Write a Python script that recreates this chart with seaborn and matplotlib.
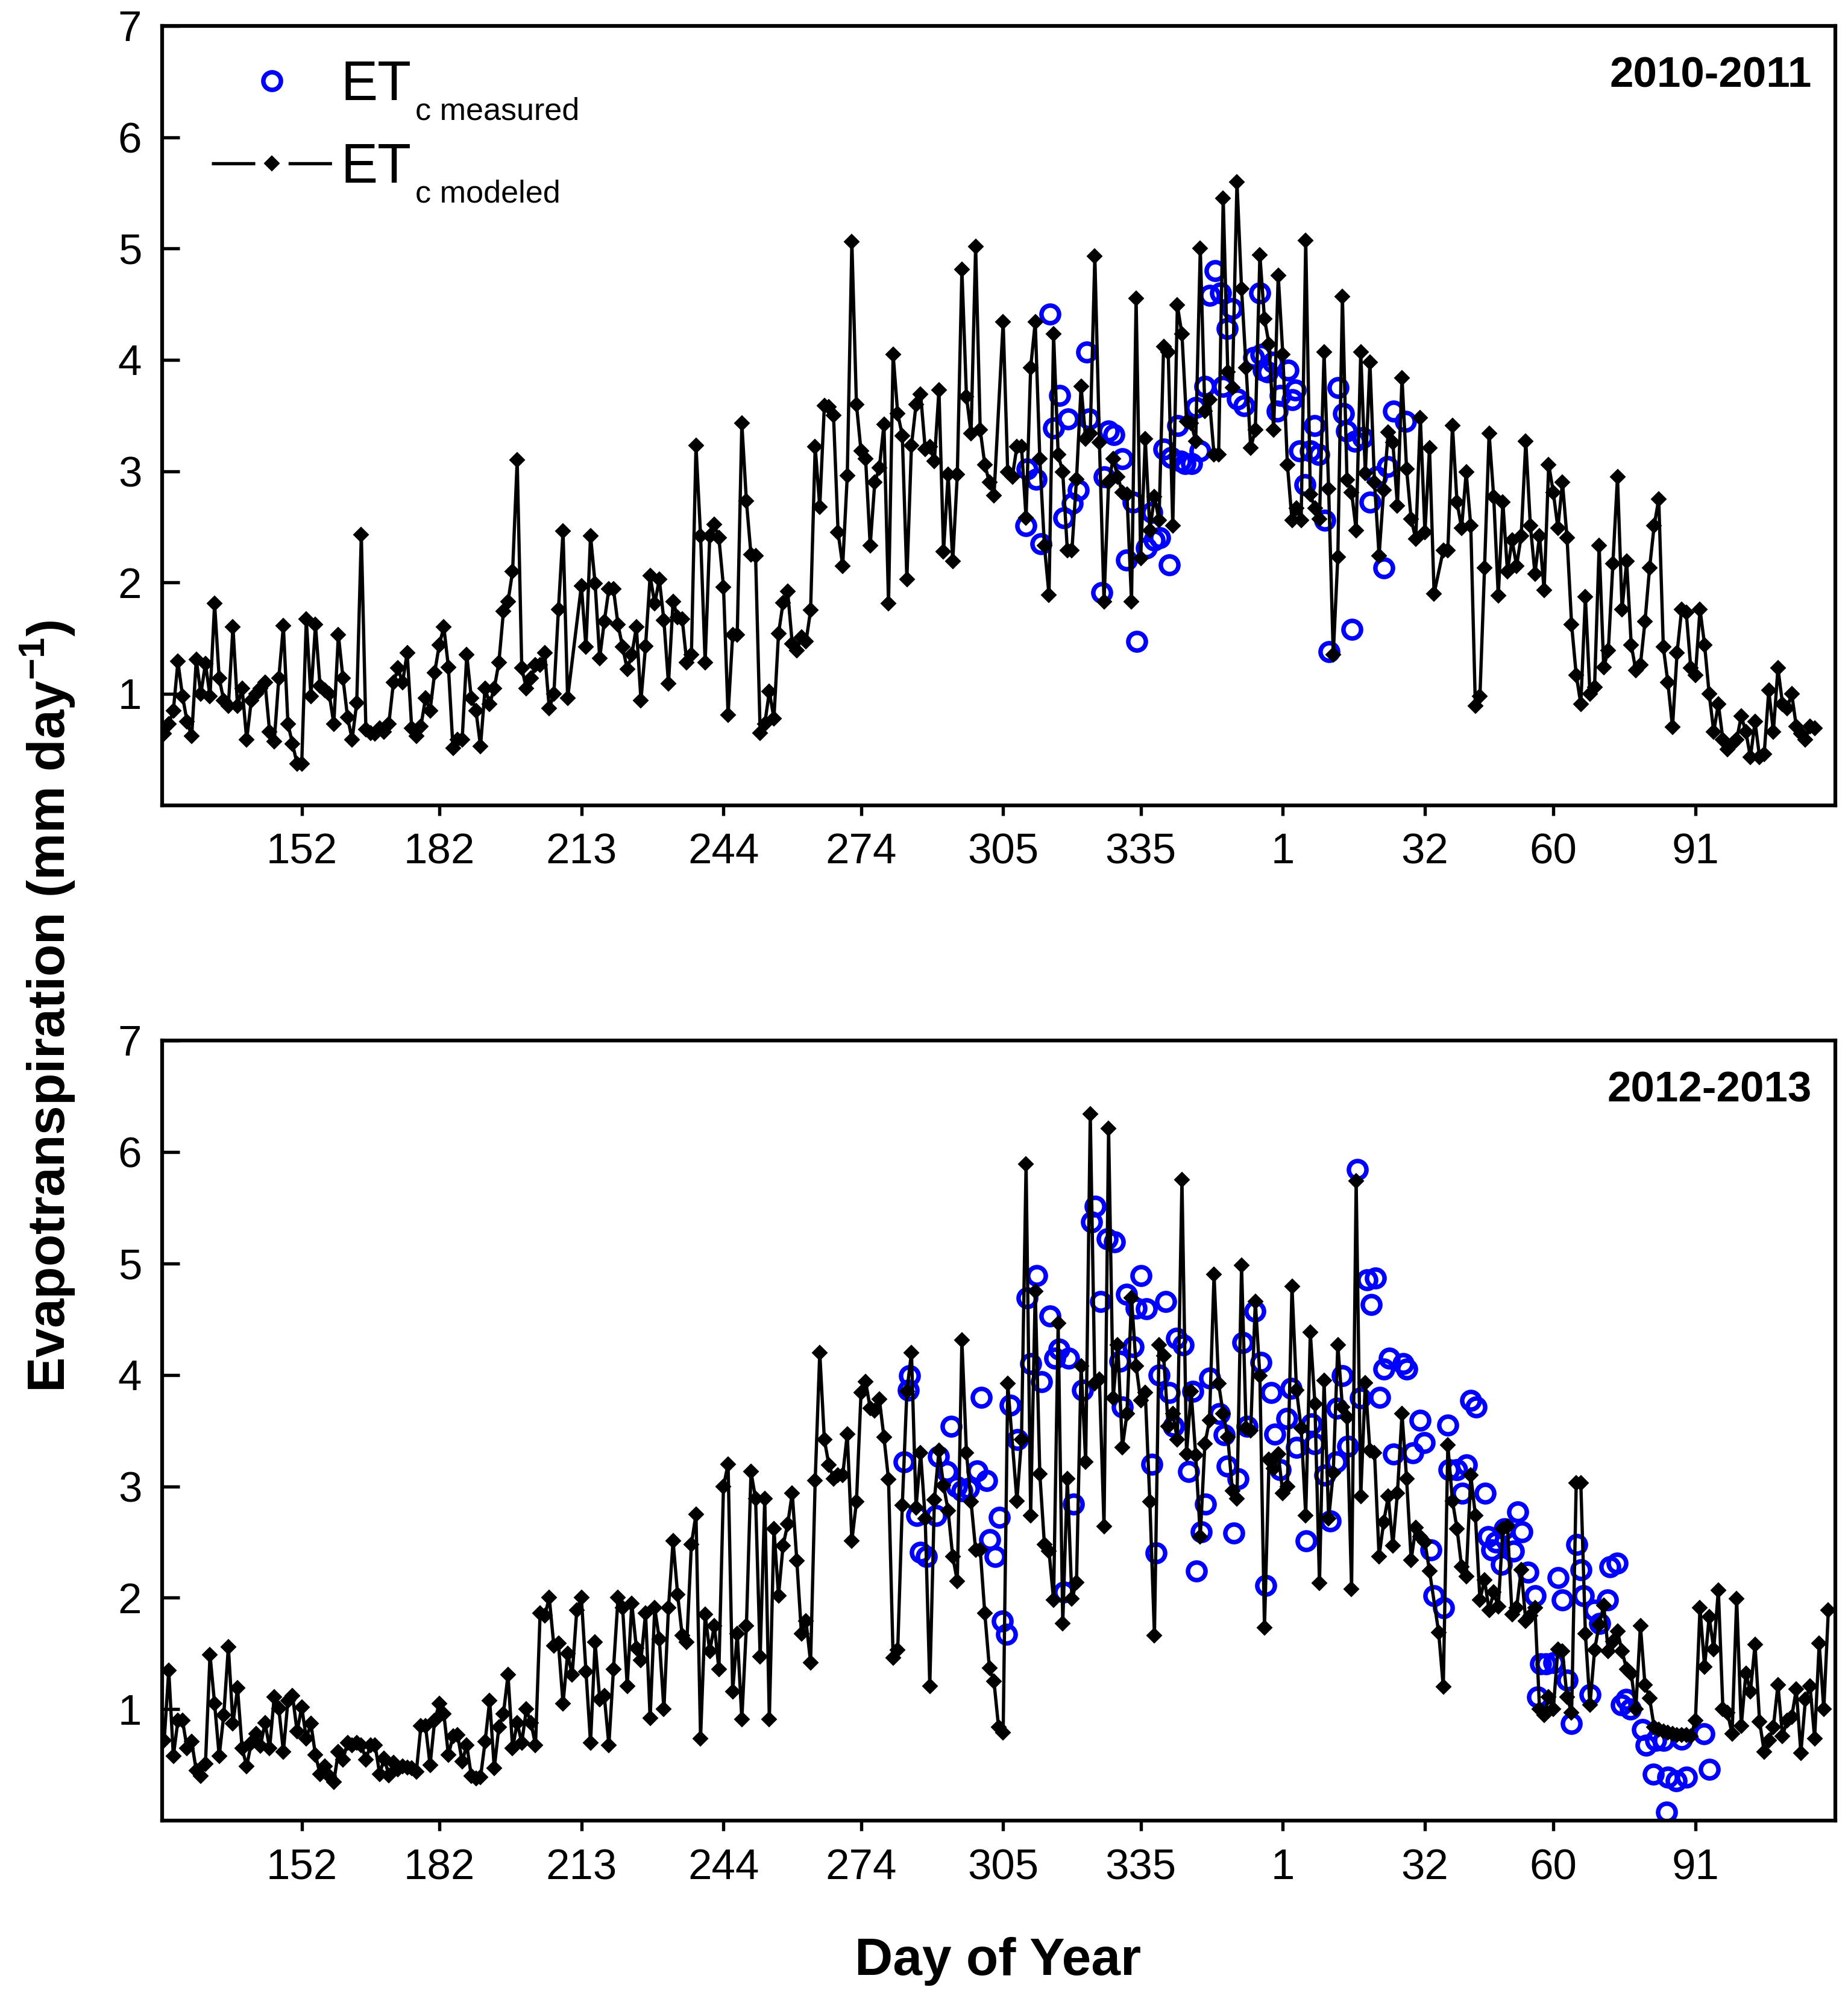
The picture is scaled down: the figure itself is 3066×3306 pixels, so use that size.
"""
Crop evapotranspiration (ETc): measured vs modeled, two seasons.
"""

import numpy as np
import pandas as pd
import matplotlib
matplotlib.use("Agg")
import matplotlib.pyplot as plt
import seaborn as sns

# x axis: sequential day count (day 366 = 1 Jan of the second year)
tick_days = [152, 182, 213, 244, 274, 305, 335, 366, 397, 425, 456]
tick_labels = ["152", "182", "213", "244", "274", "305", "335", "1", "32", "60", "91"]

# legend: main text and subscript
leg_main = ["ET", "ET"]
leg_sub = ["c measured", "c modeled"]

# ---- 2010-2011, ETc modeled (daily), four runs with their first day
mod_1011_start = [122, 213, 305, 401]
mod_1011_a = [0.64, 0.73, 0.85, 1.29, 0.98, 0.75, 0.62, 1.31, 1.0, 1.27,
              0.98, 1.81, 1.14, 0.94, 0.89, 1.6, 0.89, 1.05, 0.59, 0.94,
              1.0, 1.05, 1.1, 0.66, 0.57, 1.14, 1.61, 0.73, 0.55, 0.37,
              0.37, 1.67, 0.98, 1.62, 1.07, 1.03, 1.0, 0.73, 1.53, 1.14,
              0.79, 0.59, 0.92, 2.43, 0.68, 0.65, 0.64, 0.69, 0.66, 0.73,
              1.1, 1.23, 1.1, 1.37, 0.69, 0.62, 0.71, 0.96, 0.85, 1.19,
              1.44, 1.6, 1.24, 0.51, 0.59, 0.59, 1.35, 0.96, 0.85, 0.53,
              1.05, 0.91, 1.05, 1.28, 1.74, 1.83, 2.1, 3.1, 1.23, 1.05,
              1.14, 1.26, 1.26, 1.37, 0.87, 1.0, 1.76, 2.46, 0.96]
mod_1011_b = [1.97, 1.42, 2.42, 1.99, 1.32, 1.65, 1.94, 1.94, 1.62, 1.42,
              1.22, 1.35, 1.6, 0.94, 1.43, 2.06, 1.81, 2.03, 1.66, 1.09,
              1.83, 1.69, 1.67, 1.28, 1.35, 3.23, 2.42, 1.28, 2.42, 2.52,
              2.4, 1.96, 0.81, 1.53, 1.53, 3.43, 2.73, 2.25, 2.24, 0.65,
              0.73, 1.02, 0.78, 1.54, 1.82, 1.92, 1.45, 1.39, 1.51, 1.47,
              1.75, 3.22, 2.68, 3.59, 3.58, 3.5, 2.45, 2.15, 2.96, 5.06,
              3.6, 3.18, 3.11, 2.33, 2.9, 3.03, 3.42, 1.81, 4.05, 3.52,
              3.32, 2.03, 3.23, 3.6, 3.69, 3.2, 3.22, 3.09, 3.73, 2.28,
              2.97, 2.19, 2.97, 4.81, 3.67, 3.34, 5.02, 3.37, 3.06, 2.9, 2.78]
mod_1011_c = [4.34, 2.99, 2.95, 3.22, 3.22, 2.58, 3.93, 4.34, 3.11, 2.33,
              1.89, 4.23, 3.15, 2.99, 2.29, 2.29, 2.93, 3.76, 3.29, 3.34,
              4.93, 3.26, 1.83, 2.9, 3.11, 2.95, 2.81, 2.79, 1.83, 4.55,
              2.22, 3.29, 2.47, 2.77, 2.56, 4.12, 4.07, 2.51, 4.49, 4.23,
              3.45, 3.43, 3.27, 5.0, 3.54, 3.64, 3.15, 3.15, 5.45, 3.89,
              3.75, 5.6, 4.64, 3.93, 3.21, 3.37, 4.94, 4.37, 4.14, 3.37,
              4.76, 4.05, 3.06, 2.56, 2.67, 2.56, 5.07, 2.79, 2.67, 2.57,
              4.07, 2.84, 1.35, 2.23, 4.57, 2.92, 2.81, 2.47, 4.07, 2.98,
              3.98, 2.9, 2.24, 2.83, 3.35, 3.26, 2.69, 3.84, 3.02, 2.57,
              2.39, 3.48, 2.45, 3.21, 1.9]
mod_1011_d = [2.29, 2.29, 3.41, 2.72, 2.49, 2.99, 2.51, 0.89, 0.98, 2.13,
              3.34, 2.77, 1.88, 2.72, 2.1, 2.38, 2.15, 2.42, 3.27, 2.51,
              2.08, 2.42, 1.93, 3.06, 2.81, 2.49, 2.9, 2.4, 1.62, 1.17,
              0.91, 1.87, 1.0, 1.06, 2.33, 1.24, 1.39, 2.17, 2.95, 1.76,
              2.19, 1.44, 1.21, 1.26, 1.65, 2.13, 2.51, 2.75, 1.42, 1.1,
              0.7, 1.37, 1.76, 1.73, 1.23, 1.17, 1.76, 1.44, 1.0, 0.66,
              0.91, 0.59, 0.5, 0.55, 0.59, 0.8, 0.66, 0.43, 0.75, 0.43,
              0.46, 1.03, 0.66, 1.23, 0.91, 0.87, 1.0, 0.71, 0.64, 0.59, 0.71, 0.69]

# ---- 2010-2011, ETc measured
med_1011_day = [309.9, 310.2, 312.2, 313.2, 315.2, 316.0, 317.3, 318.2, 319.1, 320.1,
                321.4, 323.2, 323.8, 326.5, 327.1, 328.0, 329.2, 331.0, 331.9, 333.3,
                334.2, 336.2, 337.4, 338.0, 339.2, 340.1, 341.2, 341.6, 343.1, 343.7,
                344.6, 346.1, 347.0, 347.9, 349.0, 350.0, 351.2, 352.4, 353.0, 353.9,
                354.9, 356.1, 357.6, 359.7, 360.9, 361.2, 361.8, 362.7, 363.9, 364.8,
                365.4, 367.2, 368.1, 368.7, 369.6, 370.8, 372.0, 372.9, 373.8, 375.1,
                376.1, 378.1, 379.3, 379.9, 381.1, 381.7, 383.5, 385.0, 386.5, 388.0,
                388.9, 390.1, 392.8]
med_1011_val = [2.51, 3.02, 2.93, 2.35, 4.41, 3.39, 3.68, 2.58, 3.47, 2.71,
                2.83, 4.07, 3.47, 1.91, 2.95, 3.36, 3.33, 3.11, 2.2, 2.72,
                1.47, 2.31, 2.63, 2.38, 2.4, 3.2, 2.16, 3.12, 3.41, 3.09,
                3.07, 3.07, 3.57, 3.18, 3.76, 4.58, 4.8, 4.6, 3.76, 4.28,
                4.46, 3.65, 3.59, 4.02, 4.6, 4.05, 3.91, 3.89, 3.98, 3.54,
                3.68, 3.91, 3.64, 3.73, 3.18, 2.88, 3.18, 3.41, 3.15, 2.56,
                1.38, 3.75, 3.52, 3.36, 1.58, 3.27, 3.3, 2.72, 2.95, 2.13,
                3.04, 3.54, 3.45]

# ---- 2012-2013, ETc modeled (daily)
mod_1213_start = [122, 213, 308, 400]
mod_1213_a = [0.72, 1.35, 0.58, 0.9, 0.9, 0.65, 0.71, 0.45, 0.4, 0.51,
              1.49, 1.05, 0.58, 0.95, 1.56, 0.87, 1.19, 0.65, 0.49, 0.7,
              0.78, 0.67, 0.88, 0.65, 1.11, 1.01, 0.62, 1.08, 1.12, 0.8,
              1.02, 0.74, 0.87, 0.59, 0.42, 0.49, 0.4, 0.35, 0.62, 0.55,
              0.7, 0.68, 0.7, 0.68, 0.55, 0.68, 0.68, 0.42, 0.56, 0.41,
              0.52, 0.46, 0.49, 0.48, 0.47, 0.44, 0.85, 0.85, 0.5, 0.9,
              1.05, 0.96, 0.59, 0.76, 0.77, 0.53, 0.68, 0.4, 0.38, 0.39,
              0.71, 1.08, 0.47, 0.84, 0.96, 1.31, 0.65, 0.88, 0.7, 1.0,
              0.88, 0.68, 1.86, 1.84, 2.0, 1.57, 1.59, 1.05, 1.5, 1.31, 1.89]
mod_1213_b = [2.0, 1.34, 0.7, 1.6, 1.09, 1.12, 0.68, 1.36, 2.0, 1.91,
              1.21, 1.95, 1.55, 1.44, 1.86, 0.92, 1.91, 1.63, 1.0, 1.91,
              2.51, 2.03, 1.66, 1.6, 2.48, 2.75, 0.74, 1.85, 1.52, 1.75,
              1.36, 3.0, 3.2, 1.16, 1.68, 0.91, 1.75, 3.13, 2.89, 1.47,
              2.89, 0.91, 2.62, 2.02, 2.47, 2.66, 2.94, 2.33, 1.68, 1.79,
              1.42, 3.05, 4.2, 3.42, 3.19, 3.07, 3.1, 3.1, 3.47, 2.51,
              2.86, 3.84, 3.94, 3.7, 3.68, 3.78, 3.44, 3.06, 1.46, 1.53,
              2.83, 3.85, 4.2, 2.81, 3.3, 2.71, 1.21, 2.88, 3.32, 3.01,
              2.78, 2.37, 2.15, 4.31, 3.3, 2.86, 2.43, 2.43, 1.86, 1.37,
              1.25, 0.84, 0.79, 3.92]
mod_1213_c = [2.87, 3.42, 5.89, 2.74, 4.75, 3.11, 2.48, 2.42, 1.98, 4.46,
              1.77, 3.07, 1.99, 2.14, 4.08, 3.22, 6.34, 3.92, 3.96, 2.64,
              6.21, 3.79, 4.27, 3.35, 3.65, 4.69, 4.08, 3.77, 3.84, 2.86,
              1.66, 4.27, 4.17, 3.54, 3.65, 3.42, 5.75, 3.29, 3.85, 3.28,
              2.55, 3.38, 3.59, 4.9, 3.92, 3.65, 3.44, 2.96, 2.89, 4.98,
              3.52, 3.5, 4.66, 3.99, 1.73, 3.24, 3.16, 3.29, 2.94, 3.0,
              4.79, 3.86, 3.52, 2.74, 4.38, 3.74, 2.13, 3.95, 2.71, 3.12,
              4.27, 3.71, 3.62, 2.08, 5.74, 2.91, 3.93, 3.32, 3.3, 2.37,
              2.68, 2.91, 2.47, 2.94, 3.65, 3.07, 2.34, 2.63, 2.55, 2.5, 2.24]
mod_1213_d = [1.69, 1.2, 3.37, 2.87, 2.62, 2.28, 2.19, 3.1, 2.74, 1.98,
              2.16, 1.89, 2.05, 1.92, 2.62, 2.64, 1.85, 1.91, 2.25, 1.79,
              1.84, 1.91, 1.0, 0.95, 1.11, 1.0, 1.54, 1.52, 1.11, 0.97,
              3.03, 3.03, 1.68, 1.04, 1.53, 1.76, 1.93, 1.52, 1.61, 1.7,
              1.52, 1.36, 1.32, 1.0, 1.75, 1.22, 1.1, 0.84, 0.82, 0.8,
              0.79, 0.78, 0.77, 0.77, 0.77, 0.76, 0.9, 1.91, 1.38, 1.83,
              1.54, 2.07, 1.0, 0.97, 0.78, 1.99, 0.85, 1.32, 1.16, 1.58,
              0.89, 0.62, 0.72, 0.84, 1.22, 0.76, 0.9, 0.93, 1.18, 0.61,
              1.09, 1.21, 0.74, 1.59, 1.0, 1.89]

# ---- 2012-2013, ETc measured
med_1213_day = [283.4, 284.3, 284.6, 286.1, 287.0, 288.2, 290.3, 290.9, 292.7, 293.6,
                294.8, 296.0, 297.5, 299.3, 300.2, 301.4, 302.0, 303.3, 304.2, 304.8,
                305.7, 306.6, 308.1, 310.2, 311.0, 312.3, 313.4, 315.2, 316.3, 317.2,
                318.2, 319.3, 320.3, 322.3, 324.3, 325.1, 326.2, 327.7, 329.3, 330.4,
                331.0, 331.9, 333.3, 334.0, 335.1, 336.2, 337.4, 338.3, 339.0, 340.4,
                341.3, 342.2, 342.8, 344.3, 345.4, 346.4, 347.2, 348.2, 349.1, 350.0,
                352.1, 353.2, 353.9, 355.3, 356.2, 357.3, 358.2, 359.9, 361.2, 362.3,
                363.5, 364.2, 365.4, 366.9, 367.8, 369.0, 371.1, 372.3, 372.9, 375.1,
                376.3, 377.6, 377.8, 379.0, 380.2, 382.2, 382.9, 384.4, 385.3, 386.2,
                387.1, 388.0, 389.2, 390.1, 392.2, 393.1, 394.3, 395.9, 396.8, 398.3,
                398.9, 401.1, 402.0, 402.3, 404.0, 405.2, 406.1, 407.0, 408.1, 410.2,
                410.8, 411.6, 412.5, 413.7, 414.3, 416.3, 417.2, 418.1, 419.5, 421.0,
                421.6, 422.2, 423.4, 425.1, 426.0, 426.9, 428.0, 428.9, 430.1, 431.0,
                431.6, 433.0, 433.9, 435.1, 436.8, 437.4, 438.9, 439.8, 440.9, 441.8,
                444.5, 445.3, 446.8, 447.4, 449.1, 449.7, 450.0, 451.8, 453.0, 454.1,
                457.9, 459.1]
med_1213_val = [3.22, 3.86, 3.99, 2.74, 2.41, 2.37, 2.74, 3.27, 3.13, 3.54,
                3.0, 2.96, 2.98, 3.14, 3.8, 3.05, 2.52, 2.37, 2.72, 1.79,
                1.67, 3.73, 3.42, 4.69, 4.1, 4.89, 3.94, 4.53, 4.15, 4.23,
                2.05, 4.15, 2.84, 3.86, 5.37, 5.51, 4.66, 5.22, 5.19, 4.12,
                3.71, 4.72, 4.25, 4.6, 4.89, 4.59, 3.2, 2.4, 4.0, 4.66,
                3.84, 3.54, 4.33, 4.27, 3.13, 3.85, 2.24, 2.59, 2.84, 3.97,
                3.65, 3.46, 3.18, 2.58, 3.07, 4.29, 3.54, 4.57, 4.11, 2.11,
                3.84, 3.47, 3.15, 3.61, 3.88, 3.35, 2.51, 3.56, 3.38, 3.1,
                2.69, 3.22, 3.7, 3.99, 3.36, 5.84, 3.79, 4.85, 4.63, 4.87,
                3.8, 4.05, 4.15, 3.29, 4.1, 4.05, 3.3, 3.59, 3.39, 2.43,
                2.02, 1.91, 3.55, 3.15, 3.15, 2.94, 3.19, 3.77, 3.71, 2.94,
                2.55, 2.43, 2.5, 2.3, 2.62, 2.42, 2.77, 2.59, 2.23, 2.02,
                1.11, 1.41, 1.41, 1.42, 2.18, 1.98, 1.26, 0.87, 2.48, 2.25,
                2.02, 1.13, 1.89, 1.77, 1.98, 2.28, 2.31, 1.04, 1.09, 1.0,
                0.82, 0.68, 0.42, 0.72, 0.72, 0.08, 0.39, 0.36, 0.73, 0.39,
                0.78, 0.46]


def serie_modelada(starts, runs):
    partes = []
    for d0, vals in zip(starts, runs):
        partes.append(pd.DataFrame({"dia": np.arange(d0, d0 + len(vals)), "et": vals}))
    return pd.concat(partes, ignore_index=True)


def painel(ax, mod, med, rotulo, legenda=False):
    lab_med = leg_main[0] if legenda else None
    lab_mod = leg_main[1] if legenda else None
    sns.lineplot(data=med, x="dia", y="et", estimator=None, sort=False, ax=ax,
                 linestyle="none", marker="o", markersize=7,
                 markerfacecolor="none", markeredgecolor="#0000ff",
                 markeredgewidth=1.8, color="#0000ff", label=lab_med, zorder=2)
    sns.lineplot(data=mod, x="dia", y="et", estimator=None, ax=ax,
                 color="black", linewidth=1.3, marker="D", markersize=4.2,
                 markerfacecolor="black", markeredgecolor="black",
                 markeredgewidth=0.5, label=lab_mod, zorder=3)
    ax.set_xlim(121.5, 486.5)
    ax.set_ylim(0, 7)
    ax.set_yticks(range(1, 8))
    ax.set_xticks(tick_days)
    ax.set_xticklabels(tick_labels)
    ax.set_xlabel("")
    ax.set_ylabel("")
    ax.tick_params(axis="y", direction="in", length=7, width=1.3, labelsize=17,
                   pad=8, colors="black")
    ax.tick_params(axis="x", direction="out", length=4, width=1.3, labelsize=17,
                   pad=7, colors="black")
    for sp in ax.spines.values():
        sp.set_linewidth(1.5)
        sp.set_color("black")
    ax.text(0.986, 0.935, rotulo, transform=ax.transAxes, ha="right", va="center",
            fontsize=17, fontweight="bold", color="black")
    if legenda:
        leg = ax.legend(loc="upper left", bbox_to_anchor=(0.013, 0.992), frameon=False,
                        fontsize=22, handlelength=2.2, handletextpad=0.15,
                        borderpad=0, labelspacing=0.56, numpoints=1)
        leg.set_zorder(5)
        # modeled handle drawn as "— ◆ —"
        leg.get_lines()[1].set_linestyle((0, (13.3, 10.2)))
        for txt, sub in zip(leg.get_texts(), leg_sub):
            txt.set_color("black")
            # subscript placed after the legend text (drawn after the legend)
            ax.annotate(sub, xy=(1, 0), xycoords=txt, xytext=(1.5, -3.2),
                        textcoords="offset points", ha="left", va="baseline",
                        fontsize=12.5, color="black", annotation_clip=False,
                        zorder=10)
    elif ax.get_legend() is not None:
        ax.get_legend().remove()


sns.set_style("ticks")
plt.rcParams["font.family"] = ["Liberation Sans", "DejaVu Sans"]
plt.rcParams["mathtext.fontset"] = "custom"
plt.rcParams["mathtext.rm"] = "Liberation Sans"
plt.rcParams["mathtext.bf"] = "Liberation Sans:bold"
plt.rcParams["mathtext.it"] = "Liberation Sans:italic"
plt.rcParams["text.color"] = "black"
plt.rcParams["axes.labelcolor"] = "black"

mod_1011 = serie_modelada(mod_1011_start, [mod_1011_a, mod_1011_b, mod_1011_c, mod_1011_d])
mod_1213 = serie_modelada(mod_1213_start, [mod_1213_a, mod_1213_b, mod_1213_c, mod_1213_d])
med_1011 = pd.DataFrame({"dia": med_1011_day, "et": med_1011_val})
med_1213 = pd.DataFrame({"dia": med_1213_day, "et": med_1213_val})

fig = plt.figure(figsize=(3066 / 300, 3306 / 300), dpi=300)
ax1 = fig.add_axes([0.0876, 0.596, 0.9055, 0.391])
ax2 = fig.add_axes([0.0876, 0.0864, 0.9055, 0.3916])

painel(ax1, mod_1011, med_1011, "2010-2011", legenda=True)
painel(ax2, mod_1213, med_1213, "2012-2013")

fig.text(0.026, 0.495, "Evapotranspiration (mm day$^{\\mathbf{-1}}$)", rotation=90,
         ha="center", va="center", fontsize=21, fontweight="bold", color="black")
fig.text(0.54, 0.016, "Day of Year", ha="center", va="center",
         fontsize=21, fontweight="bold", color="black")

fig.savefig("out.png", dpi=300)
